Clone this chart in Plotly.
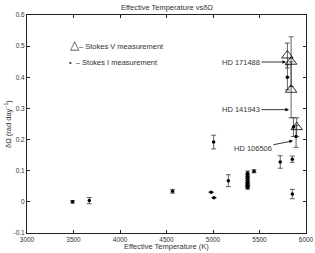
import plotly.graph_objects as go

# Stokes I measurements (dots)
i_teff = [3490, 3670, 4565, 4980, 5010, 5007, 5165,
          5372, 5372, 5372, 5372, 5372, 5372, 5372, 5372, 5372,
          5441, 5723, 5853, 5853, 5800, 5865, 5893]
i_dw = [0.0, 0.004, 0.034, 0.031, 0.013, 0.192, 0.068,
        0.093, 0.086, 0.078, 0.071, 0.064, 0.058, 0.053, 0.049, 0.045,
        0.098, 0.128, 0.137, 0.025, 0.40, 0.24, 0.21]
i_err = [0.004, 0.01, 0.006, 0.0, 0.0, 0.022, 0.019,
         0.006, 0.004, 0.004, 0.004, 0.004, 0.004, 0.004, 0.004, 0.004,
         0.005, 0.02, 0.01, 0.015, 0.04, 0.03, 0.035]

# Stokes V measurements (triangles)
v_teff = [5800, 5840, 5840, 5900]
v_dw = [0.47, 0.45, 0.36, 0.24]
v_err = [0.04, 0.08, 0.09, 0.03]

# Star labels
star_names = ["HD 171488", "HD 141943", "HD 106506"]
star_teff = [5785, 5817, 5860]
star_dw = [0.449, 0.296, 0.196]
star_ax = [-45, -48, -40]
star_ay = [0, 0, 8]

x_ticks = [3000, 3500, 4000, 4500, 5000, 5500, 6000]
y_ticks = [-0.1, 0, 0.1, 0.2, 0.3, 0.4, 0.5, 0.6]
y_ticklabels = ["-0.1", "0", "0.1", "0.2", "0.3", "0.4", "0.5", "0.6"]

FONT = "Liberation Sans, Arial, sans-serif"
INK = "#222222"
TXT = "#333333"

fig = go.Figure()
fig.add_trace(go.Scatter(
    x=i_teff, y=i_dw, mode="markers",
    marker=dict(symbol="circle", size=3.5, color="black"),
    error_y=dict(type="data", array=i_err, color=INK, thickness=0.7, width=2.5),
    showlegend=False))
fig.add_trace(go.Scatter(
    x=v_teff, y=v_dw, mode="markers",
    marker=dict(symbol="triangle-up-open", size=10, color="black",
                line=dict(width=0.8, color="black")),
    error_y=dict(type="data", array=v_err, color=INK, thickness=0.7, width=2.5),
    showlegend=False))

for name, x, y, ax, ay in zip(star_names, star_teff, star_dw, star_ax, star_ay):
    fig.add_annotation(x=x, y=y, text=name, showarrow=True, ax=ax, ay=ay,
                       arrowhead=2, arrowsize=0.9, arrowwidth=0.8, arrowcolor="black",
                       font=dict(family=FONT, size=7.5, color=TXT))

# legend-like text
fig.add_annotation(x=3440, y=0.503, xanchor="left", yanchor="middle", showarrow=False,
                   text='<span style="font-size:12px">△</span>– Stokes V measurement',
                   font=dict(family=FONT, size=7.5, color=TXT))
fig.add_annotation(x=3430, y=0.447, xanchor="left", yanchor="middle", showarrow=False,
                   text='•  – Stokes I measurement',
                   font=dict(family=FONT, size=7.5, color=TXT))

# axis titles
fig.add_annotation(xref="paper", yref="paper", x=0.5, y=-0.064, showarrow=False,
                   xanchor="center", yanchor="middle",
                   text="Effective Temperature (K)",
                   font=dict(family=FONT, size=7.5, color=TXT))
fig.add_annotation(xref="paper", yref="paper", x=-0.068, y=0.5, showarrow=False,
                   xanchor="center", yanchor="middle", textangle=-90,
                   text="δΩ (rad day<sup>−1</sup>)",
                   font=dict(family=FONT, size=7.5, color=TXT))

axis_common = dict(showline=True, linecolor=INK, linewidth=1, mirror="ticks",
                   ticks="inside", ticklen=3, tickcolor=INK, showgrid=False,
                   zeroline=False, automargin=False,
                   tickfont=dict(family=FONT, size=6.5, color=TXT))

fig.update_xaxes(range=[3000, 6000], tickvals=x_ticks, **axis_common)
fig.update_yaxes(range=[-0.1, 0.6], tickvals=y_ticks, ticktext=y_ticklabels,
                 **axis_common)

fig.update_layout(
    width=315, height=253,
    margin=dict(l=27, r=9, t=15, b=20),
    paper_bgcolor="white", plot_bgcolor="white",
    title=dict(text="Effective Temperature vsδΩ", x=0.53, xanchor="center",
               y=0.972, yanchor="middle",
               font=dict(family=FONT, size=7.5, color=TXT)),
)
fig.write_html("out.html",
               config={"staticPlot": True, "displayModeBar": False},
               post_script="document.body.style.margin='0';document.body.style.overflow='hidden';")
